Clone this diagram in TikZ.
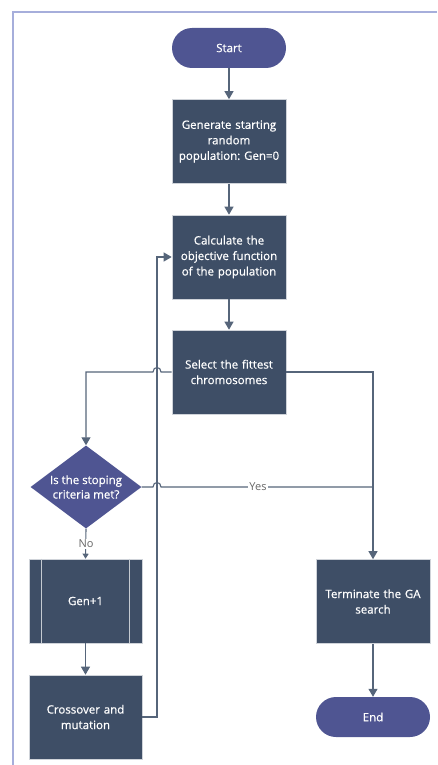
\documentclass[tikz,border=0pt]{standalone}
\usepackage{fontspec}
\setmainfont{Open Sans}
\newfontfamily\boxfont[FakeBold=0.7]{Open Sans}
\usetikzlibrary{shapes.geometric, arrows.meta}
\definecolor{boxfill}{HTML}{3E4E66}
\definecolor{termfill}{HTML}{4F5592}
\definecolor{linkcol}{HTML}{56657A}
\definecolor{framecol}{HTML}{A6AEDB}
\frenchspacing

\begin{document}
\begin{tikzpicture}[x=1pt, y=-1pt,
	proc/.style={rectangle, fill=boxfill, draw=white!75!boxfill, line width=0.6pt, text=white,
		minimum width=114pt, minimum height=84pt, text width=110pt, align=center, inner sep=0pt,
		font=\boxfont\fontsize{11.5}{15.5}\selectfont},
	term/.style={rectangle, rounded corners=20pt, fill=termfill, text=white,
		minimum width=114pt, minimum height=40pt, inner sep=0pt, font=\boxfont\fontsize{11.5}{15.5}\selectfont},
	decide/.style={diamond, fill=termfill, minimum width=111pt, minimum height=83pt, inner sep=0pt},
	line/.style={draw=linkcol, line width=1.1pt},
	link/.style={line, -{Triangle[width=9pt, length=8pt]}},
	tag/.style={fill=white, text=black!60, inner sep=1pt, font=\fontsize{11}{12}\selectfont}]
	\useasboundingbox (0,0) rectangle (437,765);
	\draw[framecol, line width=1.2pt] (13,765) -- (13,12) -- (437,12);

	% main column
	\node[term] (start) at (229,48) {Start};
	\node[proc] (gen) at (229,141.5) {Generate starting\\random\\population: Gen=0};
	\node[proc] (calc) at (229,257) {Calculate the\\objective function\\of the population};
	\node[proc] (select) at (229,372) {Select the fittest\\chromosomes};

	% left branch
	\node[decide] (check) at (86,487) {};
	\node[text=white, align=center, inner sep=0pt, font=\boxfont\fontsize{11.5}{14.5}\selectfont]
		(checktext) at (check.center) {Is the stoping\\criteria met?};
	\node[proc, minimum width=113pt] (next) at (85.5,601) {Gen+1};
	\draw[white!70!boxfill, line width=1.2pt] ([xshift=13pt]next.north west) -- ([xshift=13pt]next.south west);
	\draw[white!70!boxfill, line width=1.2pt] ([xshift=-13pt]next.north east) -- ([xshift=-13pt]next.south east);
	\node[proc, minimum width=113pt] (cross) at (85.5,717) {Crossover and\\mutation};

	% right branch
	\node[proc] (stop) at (373,601.5) {Terminate the GA\\search};
	\node[term] (finish) at (373,717) {End};

	\draw[link] (start) -- (gen);
	\draw[link] (gen) -- (calc);
	\draw[link] (calc) -- (select);
	\draw[link] (select.west) -- (161,372) .. controls (161,366) and (153,366) .. (153,372) -- (86,372) -- (check.north);
	\draw[link] (select.east) -- (373,372) -- (stop.north);
	\draw[line] (check.east) -- (153,487) .. controls (153,481) and (161,481) .. (161,487) -- (373,487);
	\node[tag] (yes) at (258,487) {Yes};
	\draw[line, -{Triangle[width=6pt, length=5pt]}] (check.south) -- (next.north);
	\node[tag] (no) at (86,544) {No};
	\draw[link] (next) -- (cross);
	\draw[link] (cross.east) -- (157,717) -- (157,257) -- (calc.west);
	\draw[link] (stop) -- (finish);
\end{tikzpicture}
\end{document}
